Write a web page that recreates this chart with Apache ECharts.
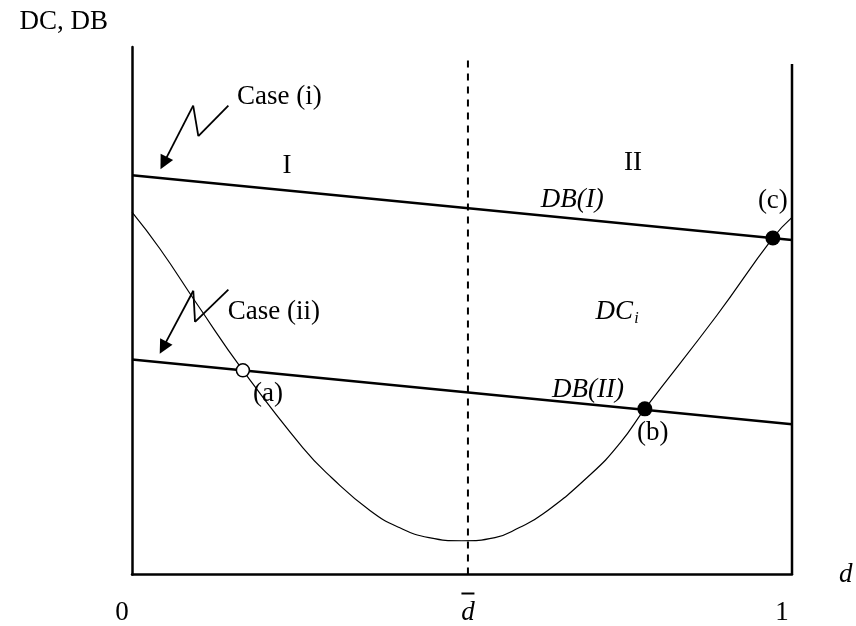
<!DOCTYPE html>
<html>
<head>
<meta charset="utf-8">
<script src="https://cdn.jsdelivr.net/npm/echarts@6/dist/echarts.min.js"></script>
<style>html,body{margin:0;padding:0;background:#fff}#c{width:856px;height:626px}</style>
</head>
<body>
<div id="c"></div>
<script>
// ---- data ----
const dBar = 0.509;                       // position of d-bar on the d axis
const tickValues = [0, dBar, 1];
const tickLabels = ['0', 'd', '1'];
const curveX = [0, 0.042, 0.1, 0.168, 0.259, 0.303, 0.361, 0.405, 0.45, 0.5, 0.55, 0.587, 0.623, 0.695, 0.74, 0.777, 0.886, 0.971, 1];
const curveY = [68.7, 61.8, 51.0, 38.7, 24.0, 18.3, 12.1, 8.9, 7.0, 6.4, 7.0, 8.9, 11.5, 19.0, 25.0, 31.4, 49.1, 63.8, 67.7];
const dbX = [0, 1];
const db1Y = [75.7, 63.4];
const db2Y = [40.75, 28.5];
const pointNames = ['a', 'b', 'c'];
const pointX = [0.168, 0.777, 0.971];
const pointY = [38.7, 31.4, 63.8];
const pointOpen = [true, false, false];
const dashTop = 98.1;
const rightBorderTop = 96.8;
// zigzag arrows (x, y) polylines
const arrow1X = [0.146, 0.1005, 0.0927, 0.048];
const arrow1Y = [88.9, 83.1, 88.9, 78.0];
const arrow2X = [0.146, 0.0955, 0.0929, 0.047];
const arrow2Y = [54.0, 47.9, 53.8, 43.0];

// ---- annotation layout ----
const notes = [
  {t: 'Case (i)', x: 0.159, y: 90.6, align: 'left'},
  {t: 'I', x: 0.235, y: 77.4},
  {t: 'II', x: 0.759, y: 78.1},
  {t: '{it|DB(I)}', x: 0.667, y: 71.1},
  {t: '{it|DC}{sub|i}', x: 0.735, y: 49.8},
  {t: 'Case (ii)', x: 0.145, y: 49.8, align: 'left'},
  {t: '{it|DB(II)}', x: 0.691, y: 34.9},
  {t: '(a)', x: 0.206, y: 34.3},
  {t: '(b)', x: 0.789, y: 26.8},
  {t: '(c)', x: 0.971, y: 70.8}
];

const FONT = "'Liberation Serif','Times New Roman',serif";
const FS = 27;
const pairs = (xs, ys) => xs.map((x, i) => [x, ys[i]]);

function zigzag(xs, ys) {
  const out = [];
  for (let i = 0; i < xs.length - 1; i++) {
    const last = i === xs.length - 2;
    out.push([
      {coord: [xs[i], ys[i]], symbol: 'none'},
      {coord: [xs[i + 1], ys[i + 1]], symbol: last ? 'triangle' : 'none'}
    ]);
  }
  return out;
}

const chart = echarts.init(document.getElementById('c'), null, {renderer: 'canvas'});
chart.setOption({
  animation: false,
  backgroundColor: '#fff',
  textStyle: {fontFamily: FONT, color: '#000'},
  grid: {left: 132, right: 64, top: 47, bottom: 49},
  xAxis: {
    type: 'value', min: 0, max: 1,
    axisLine: {show: true, lineStyle: {color: '#000', width: 2.5}},
    axisTick: {show: false},
    splitLine: {show: false},
    axisLabel: {
      customValues: tickValues,
      margin: 14,
      formatter: (v) => {
        const i = tickValues.findIndex(t => Math.abs(t - v) < 1e-6);
        if (i === 1) return '{bar| }\n{it|' + tickLabels[i] + '}';
        return '{blank| }\n{n|' + tickLabels[i] + '}';
      },
      rich: {
        bar: {backgroundColor: '#000', width: 13, height: 2, lineHeight: 10, fontSize: 2},
        blank: {width: 13, height: 2, lineHeight: 10, fontSize: 2},
        it: {fontFamily: FONT, fontSize: FS, fontStyle: 'italic', color: '#000', lineHeight: 28},
        n: {fontFamily: FONT, fontSize: FS, color: '#000', lineHeight: 28, padding: [0, 20, 0, 0]}
      }
    },
    name: 'd', nameLocation: 'end', nameGap: 47,
    nameTextStyle: {fontFamily: FONT, fontSize: FS, fontStyle: 'italic', color: '#000', padding: [72, 0, 0, 0]}
  },
  yAxis: {
    type: 'value', min: 0, max: 100,
    axisLine: {show: true, lineStyle: {color: '#000', width: 2.5}},
    axisTick: {show: false},
    axisLabel: {show: false},
    splitLine: {show: false},
    name: 'DC, DB', nameLocation: 'end', nameGap: 12,
    nameTextStyle: {fontFamily: FONT, fontSize: FS, color: '#000', align: 'right', verticalAlign: 'bottom', padding: [0, 24, 0, 0]}
  },
  series: [
    {type: 'line', name: 'DC', data: pairs(curveX, curveY), smooth: 0.5,
     showSymbol: false, symbol: 'none', lineStyle: {color: '#000', width: 1.2}, silent: true, z: 3},
    {type: 'line', name: 'DB(I)', data: pairs(dbX, db1Y), symbol: 'none', lineStyle: {color: '#000', width: 2.5}, silent: true, z: 3},
    {type: 'line', name: 'DB(II)', data: pairs(dbX, db2Y), symbol: 'none', lineStyle: {color: '#000', width: 2.5}, silent: true, z: 3},
    {type: 'line', name: 'dbar', data: [[dBar, 0], [dBar, dashTop]], symbol: 'none',
     lineStyle: {color: '#000', width: 2, type: [7, 6]}, silent: true, z: 2},
    {type: 'line', name: 'border', data: [[1, 0], [1, rightBorderTop]], symbol: 'none', clip: false,
     lineStyle: {color: '#000', width: 2.5}, silent: true, z: 2},
    {type: 'line', name: 'arrows', data: [], silent: true,
     markLine: {silent: true, symbolSize: 14, label: {show: false},
       lineStyle: {color: '#000', width: 1.8, type: 'solid'},
       itemStyle: {color: '#000'},
       emphasis: {disabled: true},
       data: zigzag(arrow1X, arrow1Y).concat(zigzag(arrow2X, arrow2Y))}},
    {type: 'scatter', name: 'points', silent: true, z: 5,
     data: pointX.map((x, i) => ({value: [x, pointY[i]], name: pointNames[i],
       symbolSize: pointOpen[i] ? 13 : 15,
       itemStyle: pointOpen[i] ? {color: '#fff', borderColor: '#000', borderWidth: 1.5, opacity: 1} : {color: '#000', opacity: 1}}))},
    {type: 'scatter', name: 'notes', silent: true, symbolSize: 0, z: 6, itemStyle: {opacity: 1},
     data: notes.map(n => ({value: [n.x, n.y],
       label: {show: true, position: 'inside', formatter: n.t, align: n.align || 'center', verticalAlign: 'middle',
         fontFamily: FONT, fontSize: FS, color: '#000', opacity: 1,
         rich: {it: {fontFamily: FONT, fontSize: FS, fontStyle: 'italic', color: '#000'},
                sub: {fontFamily: FONT, fontSize: 16, fontStyle: 'italic', color: '#000', padding: [14, 0, 0, 1]}}}}))}
  ]
});
</script>
</body>
</html>
